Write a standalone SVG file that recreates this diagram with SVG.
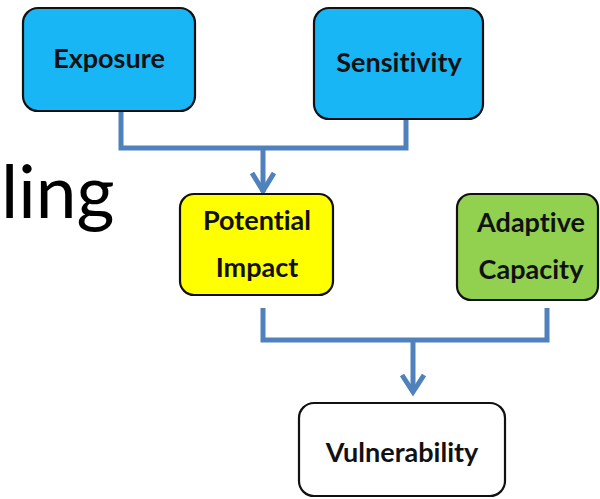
<svg xmlns="http://www.w3.org/2000/svg" width="600" height="499" viewBox="0 0 600 499">
<style>
.box{stroke:#111;stroke-width:2.2}
.lbl{font-family:Lato,"Open Sans","Liberation Sans",sans-serif;font-weight:bold;font-size:27px;fill:#111;text-anchor:middle;font-variant-ligatures:none}
.con{fill:none;stroke:#4f81bd;stroke-width:5}
.big{font-family:Lato,"Open Sans","Liberation Sans",sans-serif;font-size:73px;fill:#000}
</style>
<rect width="600" height="499" fill="#fff"/>
<text class="big" x="1" y="218">ling</text>
<g id="connectors">
<path class="con" d="M121,110 V148 H406 V116"/>
<path class="con" d="M263,148 V192"/>
<path class="con" d="M252,173 L263,191 L274,173"/>
<path class="con" d="M263,308 V340 H547 V308"/>
<path class="con" d="M413,340 V391"/>
<path class="con" d="M402,375 L413,392 L424,375"/>
</g>
<g id="exposure">
<rect class="box" x="23" y="8" width="172" height="103" rx="15" fill="#19b6f5"/>
<text class="lbl" x="109" y="68">Exposure</text>
</g>
<g id="sensitivity">
<rect class="box" x="314" y="8" width="169" height="111" rx="15" fill="#19b6f5"/>
<text class="lbl" x="399" y="72">Sensitivity</text>
</g>
<g id="potential-impact">
<rect class="box" x="180" y="194" width="153" height="101" rx="14" fill="#ffff00"/>
<text class="lbl" x="257" y="230">Potential</text>
<text class="lbl" x="257" y="277">Impact</text>
</g>
<g id="adaptive-capacity">
<rect class="box" x="457" y="194" width="141" height="106" rx="14" fill="#92d050"/>
<text class="lbl" x="531" y="232">Adaptive</text>
<text class="lbl" x="531" y="279">Capacity</text>
</g>
<g id="vulnerability">
<rect class="box" x="299" y="403" width="206" height="93" rx="15" fill="#fff"/>
<text class="lbl" x="402" y="462">Vulnerability</text>
</g>
</svg>
